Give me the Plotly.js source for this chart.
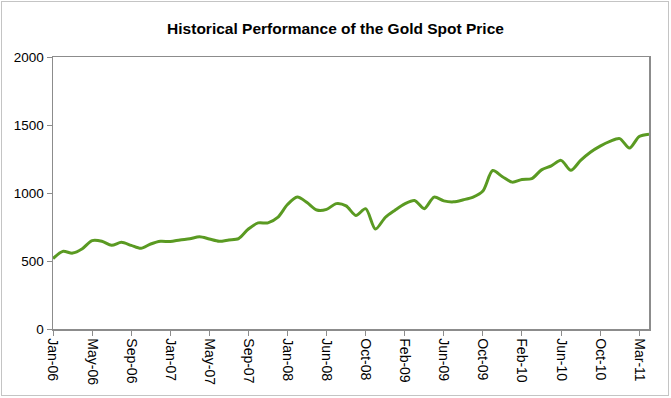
<!DOCTYPE html>
<html>
<head>
<meta charset="utf-8">
<script src="https://cdn.plot.ly/plotly-3.0.1.min.js"></script>
<style>
  html, body { margin: 0; padding: 0; background: #fff; }
  #chart { position: absolute; left: 0; top: 0; width: 671px; height: 398px; }
  #frame { position: absolute; left: 1px; top: 1px; width: 666px; height: 393px;
           border: 1.5px solid #c4c4c4; pointer-events: none; }
</style>
</head>
<body>
<div id="chart"></div>
<div id="frame"></div>
<script>
// Gold spot price (USD/oz), roughly monthly observations, Jan-06 .. Apr-11
const goldPrice = [
  518, 571, 558, 590, 650, 645, 615, 637, 615, 593,
  625, 645, 643, 655, 664, 678, 662, 645, 655, 665,
  735, 780, 780, 820, 915, 970, 930, 875, 880, 922,
  905, 835, 885, 735, 820, 873, 920, 945, 885, 970,
  942, 935, 950, 970, 1015, 1165, 1120, 1080, 1100, 1106,
  1170, 1200, 1240, 1167, 1240, 1300, 1345, 1380, 1400, 1330,
  1415, 1432
];
const tickLabels = ["Jan-06","May-06","Sep-06","Jan-07","May-07","Sep-07","Jan-08","Jun-08",
                    "Oct-08","Feb-09","Jun-09","Oct-09","Feb-10","Jun-10","Oct-10","Mar-11"];
const tickEvery = 4;
const yTicks = [0, 500, 1000, 1500, 2000];
const chartTitle = "Historical Performance of the Gold Spot Price";

const xIdx = goldPrice.map((_, i) => i);
const tickVals = tickLabels.map((_, k) => k * tickEvery);

const trace = {
  x: xIdx,
  y: goldPrice,
  type: 'scatter',
  mode: 'lines',
  line: { color: '#5a9a22', width: 3, shape: 'spline', smoothing: 0.8 },
  hoverinfo: 'skip'
};

const font = { family: 'Arial, "Liberation Sans", sans-serif', color: '#000' };

const layout = {
  width: 671, height: 398,
  margin: { l: 53, r: 22, t: 57, b: 69, pad: 0 },
  paper_bgcolor: '#ffffff',
  plot_bgcolor: '#ffffff',
  showlegend: false,
  font: Object.assign({ size: 13 }, font),
  title: {
    text: '<b>' + chartTitle + '</b>',
    font: Object.assign({ size: 15.5 }, font),
    x: 0.5, xref: 'container', xanchor: 'center',
    y: 23, yref: 'container', yanchor: 'middle'
  },
  xaxis: {
    range: [0, goldPrice.length - 1],
    tickmode: 'array',
    tickvals: tickVals,
    ticktext: tickLabels,
    tickangle: 90,
    ticks: 'outside', ticklen: 5, tickcolor: '#8c8c8c', tickwidth: 1,
    showgrid: false, zeroline: false,
    showline: true, linecolor: '#8c8c8c', linewidth: 1.5, mirror: true,
    tickfont: Object.assign({ size: 14 }, font),
    fixedrange: true
  },
  yaxis: {
    range: [0, 2000],
    tickmode: 'array',
    tickvals: yTicks,
    ticktext: yTicks.map(String),
    ticks: 'outside', ticklen: 5, tickcolor: '#8c8c8c', tickwidth: 1,
    showgrid: false, zeroline: false,
    showline: true, linecolor: '#8c8c8c', linewidth: 1.5, mirror: true,
    tickfont: Object.assign({ size: 13.5 }, font),
    fixedrange: true
  }
};

Plotly.newPlot('chart', [trace], layout, { displayModeBar: false, staticPlot: true });
</script>
</body>
</html>
